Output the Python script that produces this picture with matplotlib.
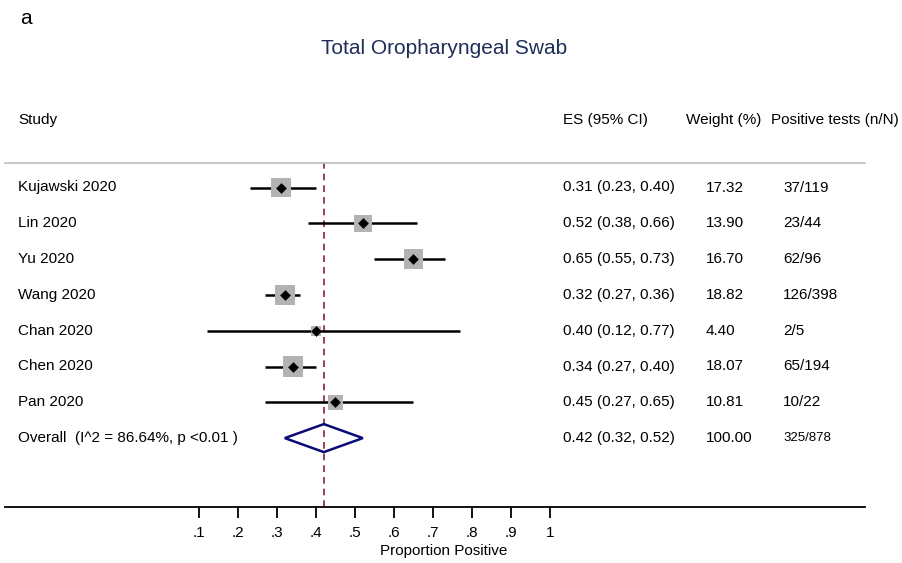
import matplotlib
matplotlib.use("Agg")
import matplotlib.pyplot as plt
from matplotlib.patches import Polygon
from matplotlib.transforms import blended_transform_factory
import numpy as np

plt.rcParams['font.family'] = ['Liberation Sans', 'DejaVu Sans']

# Study-level estimates
studies = ["Kujawski 2020", "Lin 2020", "Yu 2020", "Wang 2020",
           "Chan 2020", "Chen 2020", "Pan 2020"]
es = [0.31, 0.52, 0.65, 0.32, 0.40, 0.34, 0.45]
ci_low = [0.23, 0.38, 0.55, 0.27, 0.12, 0.27, 0.27]
ci_high = [0.40, 0.66, 0.73, 0.36, 0.77, 0.40, 0.65]
weights = [17.32, 13.90, 16.70, 18.82, 4.40, 18.07, 10.81]
n_pos = [37, 23, 62, 126, 2, 65, 10]
n_tot = [119, 44, 96, 398, 5, 194, 22]

# Pooled estimate
overall_es = 0.42
overall_low = 0.32
overall_high = 0.52
overall_weight = 100.00
i_squared = 86.64

tick_vals = [.1, .2, .3, .4, .5, .6, .7, .8, .9, 1]
tick_labels = [".1", ".2", ".3", ".4", ".5", ".6", ".7", ".8", ".9", "1"]

W, H = 903, 563
fig = plt.figure(figsize=(W / 100, H / 100), dpi=100)

# plotting region: top rule at y=163px, axis line at y=507px
left_px, right_px, top_px, bot_px = 5, 865, 163, 507
ax = fig.add_axes([left_px / W, 1 - bot_px / H,
                   (right_px - left_px) / W, (bot_px - top_px) / H])

row0_px, row_step = 187.5, 35.8
ax.set_ylim((bot_px - row0_px) / row_step, (top_px - row0_px) / row_step)
x0_px, unit_px = 160, 390
ax.set_xlim((left_px - x0_px) / unit_px, (right_px - x0_px) / unit_px)

for s in ["left", "right"]:
    ax.spines[s].set_visible(False)
ax.spines["top"].set_color("#bdbdbd")
ax.spines["top"].set_linewidth(1.2)
ax.spines["bottom"].set_linewidth(1.3)
ax.set_yticks([])
ax.set_xticks(tick_vals)
ax.set_xticklabels(tick_labels, fontsize=11)
ax.tick_params(axis="x", direction="out", length=8, width=1.3, pad=5.5)

rows = np.arange(len(studies))
n = len(studies)

# reference line at pooled estimate
ax.axvline(overall_es, color="#8b2332", lw=1.2, ls=(0, (4, 3)), zorder=1)

# confidence intervals
ax.hlines(rows, ci_low, ci_high, color="black", lw=1.8, zorder=2)
# weight boxes
box_sizes = [11.5 * w for w in weights]
ax.scatter(es, rows, s=box_sizes, marker="s", color="#b3b3b3", lw=0, zorder=3)
# point estimates
ax.scatter(es, rows, s=30, marker="D", color="black", lw=0, zorder=4)

# pooled diamond
h = 14 / row_step
diamond = Polygon([(overall_low, n), (overall_es, n - h),
                   (overall_high, n), (overall_es, n + h)],
                  closed=True, fill=False, edgecolor="#0a0a78", lw=1.8, zorder=4)
ax.add_patch(diamond)

# text columns
trans = blended_transform_factory(fig.transFigure, ax.transData)
fs = 11
col_study, col_es, col_w, col_n = 18, 563, 706, 783
for i in rows:
    ax.text(col_study / W, i, studies[i], transform=trans, fontsize=fs, va="center")
    ax.text(col_es / W, i, f"{es[i]:.2f} ({ci_low[i]:.2f}, {ci_high[i]:.2f})",
            transform=trans, fontsize=fs, va="center")
    ax.text(col_w / W, i, f"{weights[i]:.2f}", transform=trans, fontsize=fs, va="center")
    ax.text(col_n / W, i, f"{n_pos[i]}/{n_tot[i]}", transform=trans, fontsize=fs, va="center")

ax.text(col_study / W, n, f"Overall  (I^2 = {i_squared:.2f}%, p <0.01 )",
        transform=trans, fontsize=fs, va="center")
ax.text(col_es / W, n, f"{overall_es:.2f} ({overall_low:.2f}, {overall_high:.2f})",
        transform=trans, fontsize=fs, va="center")
ax.text(col_w / W, n, f"{overall_weight:.2f}", transform=trans, fontsize=fs, va="center")
ax.text(col_n / W, n, f"{sum(n_pos)}/{sum(n_tot)}", transform=trans, fontsize=9.5, va="center")

# headers
def fig_px(x, y):
    return x / W, 1 - y / H

fig.text(*fig_px(col_study, 120), "Study", fontsize=fs, va="center")
fig.text(*fig_px(563, 120), "ES (95% CI)", fontsize=fs, va="center")
fig.text(*fig_px(686, 120), "Weight (%)", fontsize=fs, va="center")
fig.text(*fig_px(771, 120), "Positive tests (n/N)", fontsize=fs, va="center")

fig.text(*fig_px(444, 48), "Total Oropharyngeal Swab", fontsize=15,
         color="#1e2d5a", ha="center", va="center")
fig.text(*fig_px(20, 18), "a", fontsize=15, va="center")
fig.text(*fig_px(444, 551), "Proportion Positive", fontsize=11, ha="center", va="center")

fig.savefig("out.png", dpi=100)
